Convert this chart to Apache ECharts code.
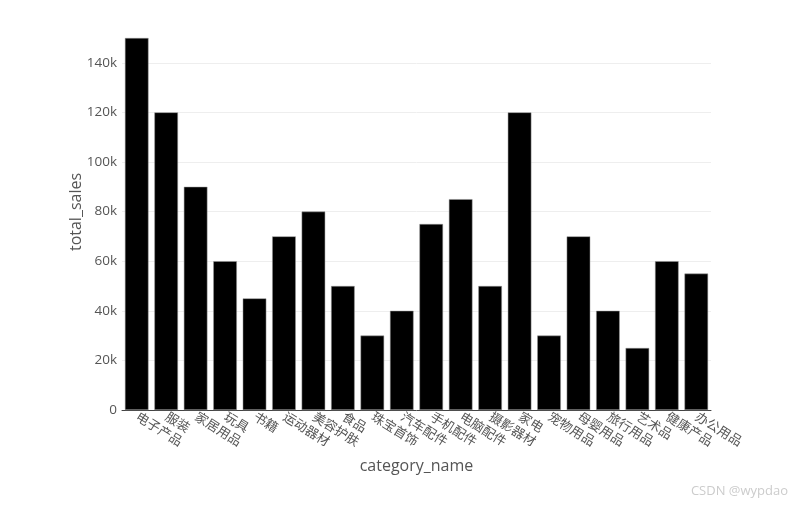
<!DOCTYPE html>
<html>
<head>
<meta charset="utf-8">
<script src="https://cdn.jsdelivr.net/npm/echarts@6/dist/echarts.min.js"></script>
<style>html,body{margin:0;padding:0;background:#fff}#c{width:800px;height:508px}</style>
</head>
<body>
<div id="c"></div>
<script>
const categories = ['电子产品','服装','家居用品','玩具','书籍','运动器材','美容护肤','食品','珠宝首饰','汽车配件','手机配件','电脑配件','摄影器材','家电','宠物用品','母婴用品','旅行用品','艺术品','健康产品','办公用品'];
const totalSales = [150000,120000,90000,60000,45000,70000,80000,50000,30000,40000,75000,85000,50000,120000,30000,70000,40000,25000,60000,55000];
const xTitle = 'category_name';
const yTitle = 'total_sales';

const FONT = '"Open Sans", "Noto Sans CJK SC", sans-serif';
const chart = echarts.init(document.getElementById('c'), null, {renderer: 'canvas'});
chart.setOption({
  animation: false,
  backgroundColor: '#fff',
  textStyle: {fontFamily: FONT},
  grid: {left: 122, right: 89, top: 38, bottom: 98, containLabel: false},
  xAxis: {
    type: 'category',
    data: categories,
    name: xTitle,
    nameLocation: 'middle',
    nameGap: 48,
    nameTextStyle: {color: '#555', fontSize: 16, fontFamily: FONT},
    axisLine: {show: true, lineStyle: {color: '#444', width: 1}},
    axisTick: {show: false},
    axisLabel: {rotate: -32, color: '#555', fontSize: 13, margin: 6, interval: 0, fontFamily: FONT}
  },
  yAxis: {
    type: 'value',
    min: 0,
    max: 150000,
    interval: 20000,
    axisLine: {show: false},
    axisTick: {show: false},
    axisLabel: {
      color: '#555', fontSize: 13.5, margin: 5, showMaxLabel: false, fontFamily: FONT,
      formatter: v => v === 0 ? '0' : (v / 1000) + 'k'
    },
    splitLine: {show: true, showMinLine: false, showMaxLine: false, lineStyle: {color: '#eeeeee', width: 1}}
  },
  series: [{
    type: 'bar',
    data: totalSales,
    barCategoryGap: '20%',
    itemStyle: {color: '#000000', borderColor: '#999', borderWidth: 0.5}
  }],
  graphic: [{
    type: 'text',
    x: 76,
    y: 212,
    rotation: Math.PI / 2,
    style: {text: yTitle, fill: '#555', fontSize: 16, fontFamily: FONT, align: 'center', verticalAlign: 'middle'}
  }, {
    type: 'text',
    right: 12,
    top: 485,
    style: {text: 'CSDN @wypdao', fill: '#cccccc', fontSize: 13, fontFamily: FONT}
  }]
});
</script>
</body>
</html>
